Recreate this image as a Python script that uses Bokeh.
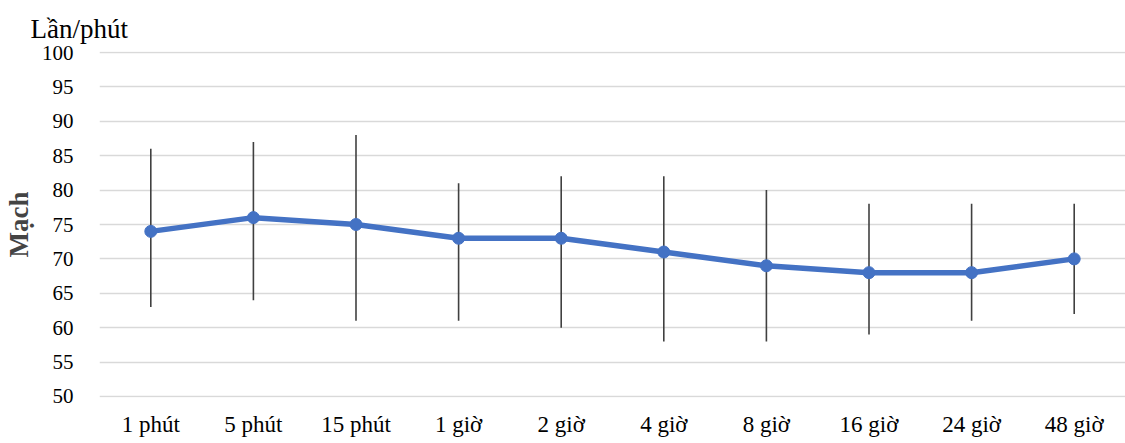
from bokeh.plotting import figure
from bokeh.models import ColumnDataSource, FactorRange, Range1d, FixedTicker
from bokeh.embed import file_html
from bokeh.resources import INLINE

categories = ["1 phút", "5 phút", "15 phút", "1 giờ", "2 giờ", "4 giờ", "8 giờ", "16 giờ", "24 giờ", "48 giờ"]
mean_pulse = [74, 76, 75, 73, 73, 71, 69, 68, 68, 70]
upper = [86, 87, 88, 81, 82, 82, 80, 78, 78, 78]
lower = [63, 64, 61, 61, 60, 58, 58, 59, 61, 62]
y_ticks = [50, 55, 60, 65, 70, 75, 80, 85, 90, 95, 100]
unit_text = "Lần/phút"

FONT = "'Times New Roman', 'Liberation Serif', serif"

src = ColumnDataSource(dict(x=categories, y=mean_pulse, up=upper, lo=lower))

p = figure(width=1125, height=443, x_range=FactorRange(*categories), y_range=Range1d(49.85, 100.15),
           output_backend="svg", toolbar_location=None,
           min_border_left=96, min_border_right=0, min_border_top=51, min_border_bottom=46,
           title=unit_text)
p.outline_line_color = None
p.background_fill_color = "white"
p.border_fill_color = "white"

p.title.text_font = FONT
p.title.text_font_style = "normal"
p.title.text_font_size = "27px"
p.title.align = "left"
p.title.offset = -69
p.title.standoff = 16
p.title.text_color = "#000000"

p.segment(x0="x", y0="lo", x1="x", y1="up", source=src, line_color="#404040", line_width=1.6)
p.line(x="x", y="y", source=src, line_color="#4472C4", line_width=5.5, line_join="round")
p.scatter(x="x", y="y", source=src, size=12, fill_color="#4472C4", line_color="#4472C4")

p.yaxis.ticker = FixedTicker(ticks=y_ticks)
p.yaxis.axis_label = "Mạch"
p.yaxis.axis_label_text_font = FONT
p.yaxis.axis_label_text_font_style = "bold"
p.yaxis.axis_label_text_font_size = "27px"
p.yaxis.axis_label_standoff = 5
p.yaxis.major_label_text_font = FONT
p.yaxis.major_label_text_font_size = "21px"
p.yaxis.major_label_standoff = 20

p.xaxis.major_label_text_font = FONT
p.xaxis.major_label_text_font_size = "23px"
p.xaxis.major_label_standoff = 8

for ax in (p.xaxis, p.yaxis):
    ax.axis_line_color = None
    ax.major_tick_line_color = None
    ax.minor_tick_line_color = None
    ax.major_label_text_color = "#000000"
    ax.major_label_text_font_style = "normal"

p.xgrid.grid_line_color = None
p.ygrid.grid_line_color = "#d9d9d9"
p.ygrid.grid_line_width = 1.6

open("out.html", "w").write(file_html(p, INLINE))
